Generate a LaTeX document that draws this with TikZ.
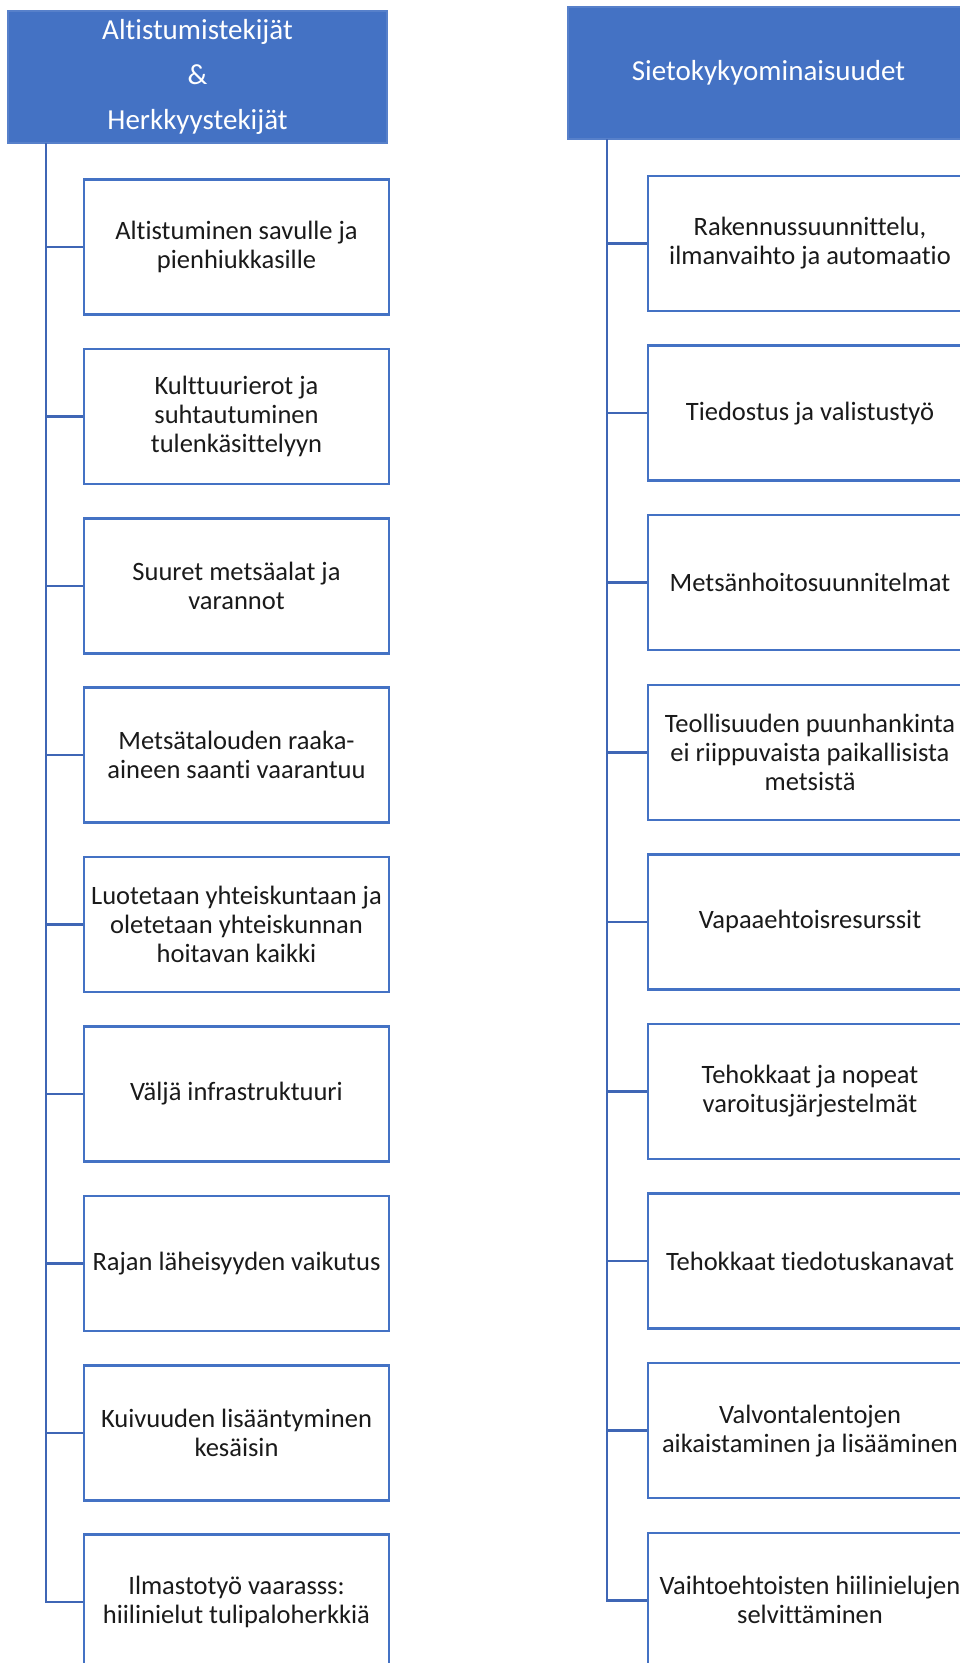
\documentclass[tikz,border=0pt]{standalone}
\usepackage{fontspec}
\setmainfont{Carlito}[Ligatures=NoCommon]
\usepackage{tikz}
\usetikzlibrary{positioning}
\definecolor{headblue}{HTML}{4472C4}
\definecolor{lineblue}{HTML}{3F66B5}
\definecolor{textgray}{HTML}{1A1A1A}

\begin{document}
\begin{tikzpicture}[
    x=1pt, y=-1pt,
    header/.style={rectangle, fill=headblue, draw=headblue!90!white, line width=1.5pt, text=white, align=center, minimum height=132pt, font=\fontsize{29}{45}\selectfont},
    itembox/.style={draw=headblue, rectangle, line width=2.5pt, fill=white, text=textgray, align=center, minimum height=135pt, font=\fontsize{26.5}{29}\selectfont},
    leftbox/.style={itembox, minimum width=305pt},
    rightbox/.style={itembox, minimum width=324pt},
    link/.style={draw=lineblue, line width=2.5pt}
]
\useasboundingbox (0,0) rectangle (960,1663);
\fill[white] (0,0) rectangle (960,1663);
\clip (0,0) rectangle (960,1663);

% Headers
\node[header, minimum width=379pt] (lhead) at (197.5,77) {Altistumistekijät\\\&\\Herkkyystekijät};
\node[header, minimum width=401pt] (rhead) at (768.5,73) {Sietokykyominaisuudet};

% Spines
\coordinate (lspine) at (46,143);
\coordinate (rspine) at (607,139);

% Left boxes
\node[leftbox] (l1) at (236.5,247) {Altistuminen savulle ja\\pienhiukkasille};
\node[leftbox] (l2) at (236.5,416.4) {Kulttuurierot ja\\suhtautuminen\\tulenkäsittelyyn};
\node[leftbox] (l3) at (236.5,585.8) {Suuret metsäalat ja\\varannot};
\node[leftbox] (l4) at (236.5,755.2) {Metsätalouden raaka-\\aineen saanti vaarantuu};
\node[leftbox] (l5) at (236.5,924.6) {Luotetaan yhteiskuntaan ja\\oletetaan yhteiskunnan\\hoitavan kaikki};
\node[leftbox] (l6) at (236.5,1094) {Väljä infrastruktuuri};
\node[leftbox] (l7) at (236.5,1263.4) {Rajan läheisyyden vaikutus};
\node[leftbox] (l8) at (236.5,1432.8) {Kuivuuden lisääntyminen\\kesäisin};
\node[leftbox] (l9) at (236.5,1602.2) {Ilmastotyö vaarasss:\\hiilinielut tulipaloherkkiä};

% Right boxes
\node[rightbox] (r1) at (810,243.5) {Rakennussuunnittelu,\\ilmanvaihto ja automaatio};
\node[rightbox] (r2) at (810,413.1) {Tiedostus ja valistustyö};
\node[rightbox] (r3) at (810,582.7) {Metsänhoitosuunnitelmat};
\node[rightbox] (r4) at (810,752.3) {Teollisuuden puunhankinta\\ei riippuvaista paikallisista\\metsistä};
\node[rightbox] (r5) at (810,921.9) {Vapaaehtoisresurssit};
\node[rightbox] (r6) at (810,1091.5) {Tehokkaat ja nopeat\\varoitusjärjestelmät};
\node[rightbox] (r7) at (810,1261.1) {Tehokkaat tiedotuskanavat};
\node[rightbox] (r8) at (810,1430.7) {Valvontalentojen\\aikaistaminen ja lisääminen};
\node[rightbox] (r9) at (810,1600.3) {Vaihtoehtoisten hiilinielujen\\selvittäminen};

% Connections
\draw[link] (lspine) |- (l1.west);
\draw[link] (lspine) |- (l2.west);
\draw[link] (lspine) |- (l3.west);
\draw[link] (lspine) |- (l4.west);
\draw[link] (lspine) |- (l5.west);
\draw[link] (lspine) |- (l6.west);
\draw[link] (lspine) |- (l7.west);
\draw[link] (lspine) |- (l8.west);
\draw[link] (lspine) |- (l9.west);
\draw[link] (rspine) |- (r1.west);
\draw[link] (rspine) |- (r2.west);
\draw[link] (rspine) |- (r3.west);
\draw[link] (rspine) |- (r4.west);
\draw[link] (rspine) |- (r5.west);
\draw[link] (rspine) |- (r6.west);
\draw[link] (rspine) |- (r7.west);
\draw[link] (rspine) |- (r8.west);
\draw[link] (rspine) |- (r9.west);

\end{tikzpicture}
\end{document}
